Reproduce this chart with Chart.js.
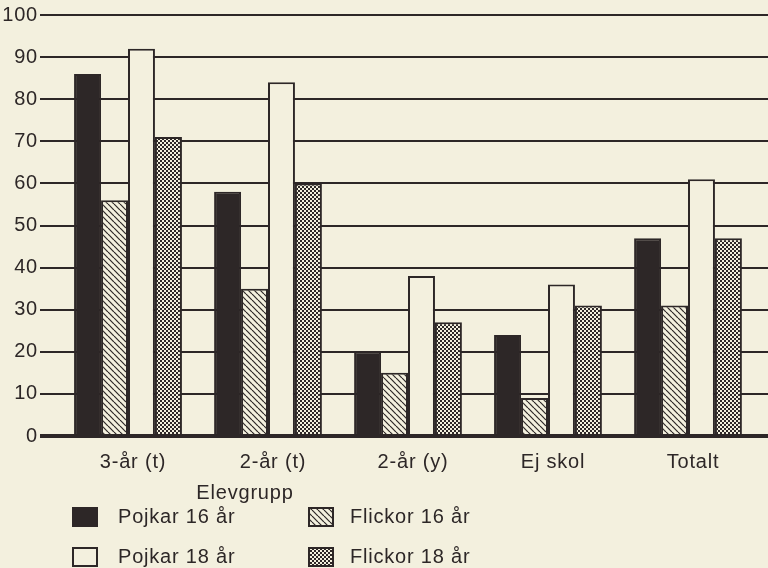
<!DOCTYPE html>
<html>
<head>
<meta charset="utf-8">
<script src="https://cdn.jsdelivr.net/npm/chart.js@4/dist/chart.umd.min.js"></script>
<style>
  html, body { margin: 0; padding: 0; background: #f3f0de; }
  canvas { display: block; }
</style>
</head>
<body>
<canvas id="chart" width="768" height="568"></canvas>
<script>
// data
const categories = ["3-år (t)", "2-år (t)", "2-år (y)", "Ej skol", "Totalt"];
const seriesNames = ["Pojkar 16 år", "Flickor 16 år", "Pojkar 18 år", "Flickor 18 år"];
const pojkar16 = [86, 58, 20, 24, 47];
const flickor16 = [56, 35, 15, 9, 31];
const pojkar18 = [92, 84, 38, 36, 61];
const flickor18 = [71, 60, 27, 31, 47];
const axisTitle = "Elevgrupp";

const paper = "#f3f0de";
const ink = "#2d2727";
const fontFamily = "'Liberation Sans', Arial, sans-serif";

// fill patterns
function hatchPattern() {
  const c = document.createElement("canvas");
  c.width = 6; c.height = 6;
  const g = c.getContext("2d");
  g.fillStyle = paper;
  g.fillRect(0, 0, 6, 6);
  g.strokeStyle = ink;
  g.lineWidth = 1.2;
  for (let k = -1; k <= 1; k++) {
    g.beginPath();
    g.moveTo(k * 6, 0);
    g.lineTo(k * 6 + 6, 6);
    g.stroke();
  }
  return g.createPattern(c, "repeat");
}

function dotPattern() {
  const c = document.createElement("canvas");
  c.width = 4; c.height = 4;
  const g = c.getContext("2d");
  g.fillStyle = paper;
  g.fillRect(0, 0, 4, 4);
  g.fillStyle = ink;
  g.fillRect(0, 0, 2, 2);
  g.fillRect(2, 2, 2, 2);
  return g.createPattern(c, "repeat");
}

const fills = [ink, hatchPattern(), paper, dotPattern()];
const values = [pojkar16, flickor16, pojkar18, flickor18];

// background + title + 2x2 legend
const paperPlugin = {
  id: "paper",
  beforeDraw(chart) {
    const ctx = chart.ctx;
    ctx.save();
    ctx.fillStyle = paper;
    ctx.fillRect(0, 0, chart.width, chart.height);
    ctx.restore();
    ctx.letterSpacing = "0.8px";
  },
  afterDraw(chart) {
    const ctx = chart.ctx;
    ctx.save();
    ctx.font = "20px " + fontFamily;
    ctx.fillStyle = ink;
    ctx.textBaseline = "middle";
    ctx.textAlign = "center";
    ctx.fillText(axisTitle, 245, 493);

    const boxX = [72, 308], textX = [118, 350];
    const boxY = [507, 547], textY = [517, 557];
    chart.data.datasets.forEach((ds, i) => {
      const col = i % 2, row = Math.floor(i / 2);
      ctx.fillStyle = ds.backgroundColor;
      ctx.fillRect(boxX[col], boxY[row], 26, 20);
      ctx.strokeStyle = ink;
      ctx.lineWidth = 2;
      ctx.strokeRect(boxX[col] + 1, boxY[row] + 1, 24, 18);
      ctx.fillStyle = ink;
      ctx.textAlign = "left";
      ctx.fillText(ds.label, textX[col], textY[row]);
    });
    ctx.restore();
  }
};

const gridWidth = (c) => (c.tick && c.tick.value === 0 ? 4 : 2);

new Chart(document.getElementById("chart"), {
  type: "bar",
  data: {
    labels: categories,
    datasets: seriesNames.map((name, i) => ({
      label: name,
      data: values[i],
      backgroundColor: fills[i],
      borderColor: ink,
      borderWidth: 2,
      barPercentage: 1,
      categoryPercentage: 0.77
    }))
  },
  options: {
    responsive: false,
    animation: false,
    layout: { padding: { top: 15, left: 0, right: 0, bottom: 0 } },
    plugins: {
      legend: { display: false },
      tooltip: { enabled: false }
    },
    scales: {
      x: {
        grid: { display: false, drawTicks: false },
        border: { display: false },
        ticks: {
          color: ink,
          font: { family: fontFamily, size: 20 },
          padding: 14,
          labelOffset: 5,
          maxRotation: 0
        },
        afterFit(scale) { scale.height = 132; }
      },
      y: {
        min: 0,
        max: 100,
        border: { display: false },
        grid: { color: ink, lineWidth: gridWidth, tickLength: 18 },
        ticks: {
          stepSize: 10,
          color: ink,
          padding: 2,
          font: { family: fontFamily, size: 20 }
        },
        afterFit(scale) { scale.width = 58; }
      },
      y2: {
        position: "right",
        min: 0,
        max: 100,
        border: { display: false },
        grid: { color: ink, lineWidth: gridWidth, drawOnChartArea: false, tickLength: 10 },
        ticks: { stepSize: 10, display: false },
        afterFit(scale) { scale.width = 10; }
      }
    }
  },
  plugins: [paperPlugin]
});
</script>
</body>
</html>
